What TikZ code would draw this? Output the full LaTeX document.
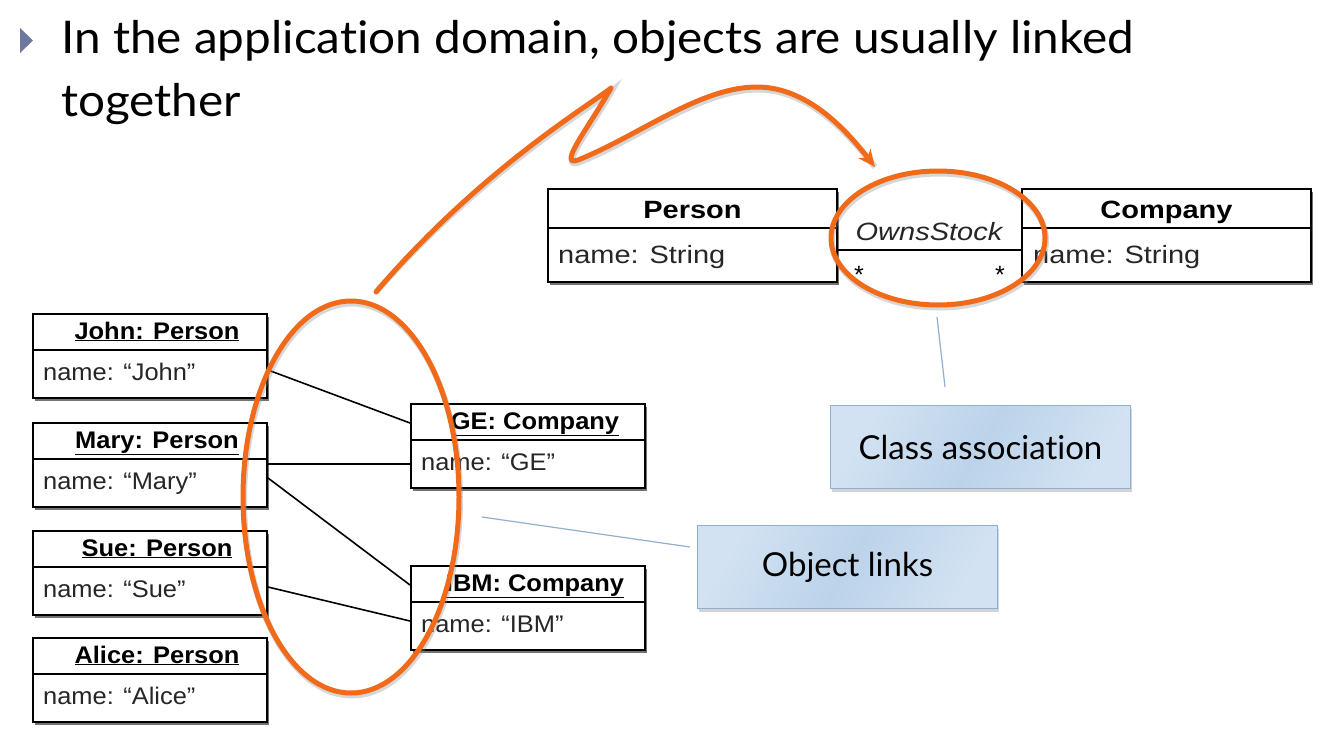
\documentclass[tikz,border=0pt]{standalone}
\usepackage{fontspec}
\setmainfont{Lato}[Ligatures={NoCommon,NoContextual}]
\newfontfamily\arialf{Liberation Sans}
\usepackage{graphicx}
\usetikzlibrary{shadows,arrows.meta,calc}
\definecolor{orng}{RGB}{240,106,26}
\definecolor{calA}{RGB}{210,226,242}
\definecolor{calB}{RGB}{188,211,234}
\definecolor{calE}{RGB}{143,176,208}
\definecolor{bulletc}{RGB}{110,120,158}
\newcommand\objbox[5]{%
  \node[objrect] (#1) at (#2,#3) {};
  \draw[divline] ($(#1.north west)+(0,37)$) -- ($(#1.north east)+(0,37)$);
  \node[objtitle] (#1-t) at ($(#1.north)+(7,26)$) {\scalebox{1.06}[1]{\underline{#4}}};
  \node[objattr] (#1-a) at ($(#1.north west)+(11,67)$) {\scalebox{1.06}[1]{#5}};
}
\begin{document}
\begin{tikzpicture}[x=1pt,y=-1pt,
  umlshadow/.style={drop shadow={shadow xshift=1.5pt, shadow yshift=-2.5pt, fill=black!55, opacity=1}},
  objrect/.style={draw=black, line width=2pt, fill=white, anchor=north west, inner sep=0pt,
     minimum width=234, minimum height=84, umlshadow},
  classrect/.style={draw=black, line width=2pt, fill=white, anchor=north west, inner sep=0pt,
     minimum width=289, minimum height=93, umlshadow},
  divline/.style={draw=black, line width=2pt},
  objtitle/.style={anchor=base, inner sep=0pt, font=\arialf\bfseries\fontsize{24}{28}\selectfont},
  objattr/.style={anchor=base west, inner sep=0pt, font=\arialf\fontsize{24}{28}\selectfont, text=black!85},
  clstitle/.style={anchor=base, inner sep=0pt, font=\arialf\bfseries\fontsize{25}{29}\selectfont},
  clsattr/.style={anchor=base west, inner sep=0pt, font=\arialf\fontsize{25}{29}\selectfont, text=black!85},
  link/.style={draw=black, line width=1.6pt},
  opath/.style={draw=orng, line width=5pt, line cap=round, line join=round},
  oshadow/.style={draw=black!45, opacity=0.35, line width=6pt, xshift=1pt, yshift=-2.5pt},
  callout/.style={draw=calE, line width=1pt, left color=calA, right color=calA, middle color=calB,
     shading angle=60, anchor=north west, minimum width=300, minimum height=83, inner sep=0pt,
     font=\fontsize{33}{38}\selectfont,
     drop shadow={shadow xshift=1pt, shadow yshift=-3pt, fill=black!50, opacity=0.35}},
  calline/.style={draw=calE, line width=1.2pt},
  titletext/.style={anchor=base west, inner sep=0pt, font=\fontsize{45}{52}\selectfont}
]
\useasboundingbox (0,0) rectangle (1336,745);

% bullet and title
\fill[bulletc] (20,28) -- (33,40.5) -- (20,53) -- cycle;
\node[titletext] (title1) at (61,53)
  {\scalebox{1.06}[1]{In the application domain, objects are usually linked}};
\node[titletext] (title2) at (61,116)
  {\scalebox{1.06}[1]{together}};

% class diagram
\node[classrect] (person) at (547,188) {};
\node[classrect] (company) at (1021,188) {};
\draw[divline] ($(person.north west)+(0,40)$) -- ($(person.north east)+(0,40)$);
\draw[divline] ($(company.north west)+(0,40)$) -- ($(company.north east)+(0,40)$);
\node[clstitle] (person-t) at ($(person.north)+(0,30)$) {\scalebox{1.16}[1]{Person}};
\node[clsattr] (person-a) at ($(person.north west)+(11,75)$) {\scalebox{1.16}[1]{name: String}};
\node[clstitle] (company-t) at ($(company.north)+(0,30)$) {\scalebox{1.16}[1]{Company}};
\node[clsattr] (company-a) at ($(company.north west)+(12,75)$) {\scalebox{1.16}[1]{name: String}};
\draw[divline] (836,250) -- (1021,250);
\node[anchor=base, inner sep=0pt, font=\arialf\itshape\fontsize{25}{29}\selectfont, text=black!85] (owns) at (929,240)
  {\scalebox{1.16}[1]{OwnsStock}};
\node[anchor=base, inner sep=0pt, font=\arialf\fontsize{25}{29}\selectfont] (star1) at (859,283) {*};
\node[anchor=base, inner sep=0pt, font=\arialf\fontsize{25}{29}\selectfont] (star2) at (1000,283) {*};

% object diagram
\objbox{john}{32}{313}{John: Person}{name: “John”}
\objbox{mary}{32}{422}{Mary: Person}{name: “Mary”}
\objbox{sue}{32}{530}{Sue: Person}{name: “Sue”}
\objbox{alice}{32}{637}{Alice: Person}{name: “Alice”}
\objbox{ge}{410}{403}{GE: Company}{name: “GE”}
\objbox{ibm}{410}{565}{IBM: Company}{name: “IBM”}

\coordinate (j1) at ($(john.north east)+(0,57)$);
\coordinate (g1) at ($(ge.north west)+(0,20)$);
\coordinate (m1) at ($(mary.north east)+(0,42)$);
\coordinate (g2) at ($(ge.north west)+(0,61)$);
\coordinate (m2) at ($(mary.north east)+(0,56)$);
\coordinate (i1) at ($(ibm.north west)+(0,20)$);
\coordinate (s1) at ($(sue.north east)+(0,57)$);
\coordinate (i2) at ($(ibm.north west)+(0,56)$);
\draw[link] (j1) -- (g1);
\draw[link] (m1) -- (g2);
\draw[link] (m2) -- (i1);
\draw[link] (s1) -- (i2);

% callouts
\node[callout] (clsassoc) at (830,405) {Class association};
\node[callout] (objlinks) at (697,525) {Object links};
\coordinate (ca1) at (937,317);
\coordinate (ca2) at (945,387);
\coordinate (ol1) at (482,517);
\coordinate (ol2) at (690,547);
\draw[calline] (ca1) -- (ca2);
\draw[calline] (ol1) -- (ol2);

% orange highlights
\draw[oshadow] (351,497) ellipse [x radius=108, y radius=196];
\draw[opath] (351,497) ellipse [x radius=108, y radius=196];
\draw[oshadow] (938,238) ellipse [x radius=107, y radius=67];
\draw[opath] (938,238) ellipse [x radius=107, y radius=67];
\coordinate (cstart) at (376,292);
\coordinate (ctip) at (875,167);
\draw[oshadow] (cstart) .. controls (480,170) and (590,105) .. (611,88)
   .. controls (591,124) and (556,168) .. (578,160)
   .. controls (640,135) and (700,87) .. (757,87)
   .. controls (810,87) and (850,135) .. (ctip);
\draw[opath, -{Stealth[length=17pt, width=15pt, inset=5pt]}] (cstart) .. controls (480,170) and (590,105) .. (611,88)
   .. controls (591,124) and (556,168) .. (578,160)
   .. controls (640,135) and (700,87) .. (757,87)
   .. controls (810,87) and (850,135) .. (ctip);
\end{tikzpicture}
\end{document}
